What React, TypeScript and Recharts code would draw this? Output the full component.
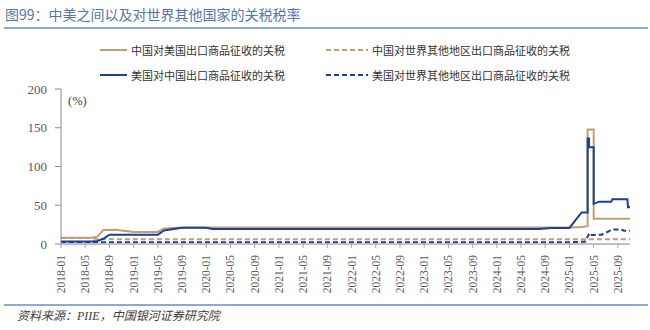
import React from "react";
import { LineChart, Line, XAxis, YAxis } from "recharts";

const TAN = "#BF9F6F";
const BLUE = "#1C3F9C";

// Tick labels (every 4 months)
const tickLabels = [
  "2018-01", "2018-05", "2018-09", "2019-01", "2019-05", "2019-09",
  "2020-01", "2020-05", "2020-09", "2021-01", "2021-05", "2021-09",
  "2022-01", "2022-05", "2022-09", "2023-01", "2023-05", "2023-09",
  "2024-01", "2024-05", "2024-09", "2025-01", "2025-05", "2025-09",
];
const firstMonth = "2018-01";
const lastMonth = "2025-11";
const yTicks = [0, 50, 100, 150, 200];

// 中国对美国出口商品征收的关税
const cnOnUsDates = [
  "2018-01", "2018-06", "2018-07", "2018-08", "2018-10", "2019-01", "2019-05",
  "2019-06", "2019-09", "2025-01", "2025-03", "2025-04-01", "2025-04-01",
  "2025-05-01", "2025-05-01", "2025-11-01",
];
const cnOnUsValues = [
  8.0, 8.0, 9.5, 18.0, 18.3, 15.5, 15.5,
  20.0, 21.3, 21.3, 22.0, 23.0, 147.6,
  147.6, 32.6, 32.6,
];

// 美国对中国出口商品征收的关税
const usOnCnDates = [
  "2018-01", "2018-06", "2018-07", "2018-08", "2018-09", "2019-05", "2019-06",
  "2019-09", "2020-01", "2020-02", "2024-08", "2024-10", "2025-01", "2025-02",
  "2025-03", "2025-04-01", "2025-04-01", "2025-04-08", "2025-04-08",
  "2025-05-01", "2025-05-01", "2025-05-28", "2025-07-28", "2025-08-04",
  "2025-10-18", "2025-10-21", "2025-11-01",
];
const usOnCnValues = [
  3.1, 3.1, 3.8, 6.7, 12.0, 12.0, 17.5,
  21.0, 21.0, 19.3, 19.3, 20.8, 20.8, 30.8,
  40.8, 40.8, 136.0, 136.0, 125.0,
  125.0, 51.8, 54.6, 54.6, 57.6,
  57.6, 47.5, 47.5,
];

// 中国对世界其他地区出口商品征收的关税
const cnOnRowDates = ["2018-01", "2018-06", "2018-07", "2025-11-01"];
const cnOnRowValues = [7.7, 7.7, 6.3, 6.0];

// 美国对世界其他地区出口商品征收的关税
const usOnRowDates = [
  "2018-01", "2025-01", "2025-02", "2025-03-18", "2025-04-10", "2025-04-16",
  "2025-06-10", "2025-07-13", "2025-08-01", "2025-09-18", "2025-10-01", "2025-11-01",
];
const usOnRowValues = [
  2.2, 2.2, 2.6, 3.0, 14.0, 11.5,
  12.0, 16.0, 18.8, 18.8, 17.2, 17.2,
];

function monthIdx(s: string): number {
  const [y, m, d] = s.split("-").map(Number);
  const [y0, m0] = firstMonth.split("-").map(Number);
  return (y - y0) * 12 + (m - m0) + (d ? (d - 1) / 30 : 0);
}

function build(dates: string[], values: number[]) {
  return dates.map((d, i) => ({ x: monthIdx(d), v: values[i] }));
}

const cnOnUs = build(cnOnUsDates, cnOnUsValues);
const usOnCn = build(usOnCnDates, usOnCnValues);
const cnOnRow = build(cnOnRowDates, cnOnRowValues);
const usOnRow = build(usOnRowDates, usOnRowValues);

const tickPositions = tickLabels.map(monthIdx);
const labelByPos: Record<string, string> = {};
tickLabels.forEach((l) => (labelByPos[String(monthIdx(l))] = l));

const SERIF = "'Liberation Serif', 'Times New Roman', serif";
const CJK = "'Noto Sans CJK SC', 'Noto Sans', sans-serif";

const XTick = (props: any) => {
  const { x, y, payload } = props;
  return (
    <text
      x={x}
      y={y}
      transform={`rotate(-90 ${x} ${y})`}
      textAnchor="end"
      dominantBaseline="central"
      fontFamily={SERIF}
      fontSize={11.5}
      fill="#595959"
    >
      {labelByPos[String(payload.value)]}
    </text>
  );
};

const legendItems = [
  { label: "中国对美国出口商品征收的关税", color: TAN, dashed: false, left: 100, top: 50 },
  { label: "中国对世界其他地区出口商品征收的关税", color: TAN, dashed: true, left: 326, top: 50 },
  { label: "美国对中国出口商品征收的关税", color: BLUE, dashed: false, left: 100, top: 75 },
  { label: "美国对世界其他地区出口商品征收的关税", color: BLUE, dashed: true, left: 326, top: 75 },
];

export default function App() {
  return (
    <div
      style={{
        position: "absolute",
        left: 0,
        top: 0,
        width: 650,
        height: 330,
        background: "#fff",
        overflow: "hidden",
      }}
    >
      <div
        style={{
          position: "absolute",
          left: 5,
          top: 4,
          fontFamily: CJK,
          fontSize: 14,
          color: "#5575AE",
          whiteSpace: "nowrap",
          lineHeight: "20px",
        }}
      >
        图99：中美之间以及对世界其他国家的关税税率
      </div>
      <div style={{ position: "absolute", left: 4, top: 27, width: 644, height: 1.5, background: "#8EA9D6" }} />

      {legendItems.map((it) => (
        <div
          key={it.label}
          style={{
            position: "absolute",
            left: it.left,
            top: it.top - 8,
            height: 16,
            display: "flex",
            alignItems: "center",
            whiteSpace: "nowrap",
          }}
        >
          <svg width={it.dashed ? 42 : 27} height={16} style={{ marginRight: 4 }}>
            <line
              x1={0}
              x2={it.dashed ? 42 : 27}
              y1={8}
              y2={8}
              stroke={it.color}
              strokeWidth={2}
              strokeDasharray={it.dashed ? "5 3" : undefined}
            />
          </svg>
          <span style={{ fontFamily: CJK, fontSize: 11, color: "#333" }}>{it.label}</span>
        </div>
      ))}

      <div
        style={{
          position: "absolute",
          left: 68,
          top: 93,
          fontFamily: SERIF,
          fontSize: 12.5,
          color: "#404040",
          lineHeight: "16px",
        }}
      >
        (%)
      </div>

      <div style={{ position: "absolute", left: 0, top: 0 }}>
        <LineChart
          width={650}
          height={330}
          margin={{ top: 89, right: 20, bottom: 26, left: 11 }}
        >
          <XAxis
            dataKey="x"
            type="number"
            domain={[monthIdx(firstMonth), monthIdx(lastMonth)]}
            ticks={tickPositions}
            interval={0}
            tick={<XTick />}
            tickSize={4}
            tickMargin={7}
            height={60}
            axisLine={{ stroke: "#BFBFBF", strokeWidth: 2 }}
            tickLine={{ stroke: "#A6A6A6" }}
            allowDataOverflow
          />
          <YAxis
            type="number"
            domain={[0, 200]}
            ticks={yTicks}
            interval={0}
            width={50}
            tickSize={6}
            tickMargin={8}
            axisLine={{ stroke: "#8C8C8C" }}
            tickLine={{ stroke: "#8C8C8C" }}
            tick={{ fontFamily: SERIF, fontSize: 13, fill: "#595959" }}
          />
          <Line
            data={cnOnRow}
            dataKey="v"
            type="linear"
            stroke={TAN}
            strokeWidth={2}
            strokeDasharray="5 3"
            dot={false}
            activeDot={false}
            isAnimationActive={false}
          />
          <Line
            data={usOnRow}
            dataKey="v"
            type="linear"
            stroke={BLUE}
            strokeWidth={2}
            strokeDasharray="5 3"
            dot={false}
            activeDot={false}
            isAnimationActive={false}
          />
          <Line
            data={cnOnUs}
            dataKey="v"
            type="linear"
            stroke={TAN}
            strokeWidth={2}
            dot={false}
            activeDot={false}
            isAnimationActive={false}
          />
          <Line
            data={usOnCn}
            dataKey="v"
            type="linear"
            stroke={BLUE}
            strokeWidth={2}
            dot={false}
            activeDot={false}
            isAnimationActive={false}
          />
        </LineChart>
      </div>

      <div style={{ position: "absolute", left: 4, top: 304, width: 644, height: 1.5, background: "#8EA9D6" }} />
      <div
        style={{
          position: "absolute",
          left: 17,
          top: 308,
          fontFamily: SERIF + ", " + CJK,
          fontStyle: "italic",
          fontSize: 12,
          color: "#404040",
          whiteSpace: "nowrap",
          lineHeight: "16px",
        }}
      >
        资料来源：PIIE，中国银河证券研究院
      </div>
    </div>
  );
}
